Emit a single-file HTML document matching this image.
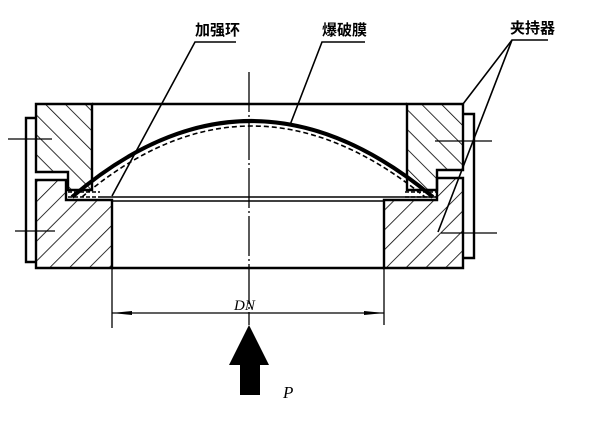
<!DOCTYPE html>
<html><head><meta charset="utf-8"><style>
html,body{margin:0;padding:0;background:#fff}
svg{display:block}
</style></head><body>
<svg width="600" height="424" viewBox="0 0 600 424" xmlns="http://www.w3.org/2000/svg">
<defs>
<pattern id="hl" patternUnits="userSpaceOnUse" width="14" height="14" patternTransform="rotate(-45)">
<line x1="0" y1="0" x2="0" y2="14" stroke="#000" stroke-width="1.6"/></pattern>
<pattern id="hr" patternUnits="userSpaceOnUse" width="14" height="14" patternTransform="rotate(45)">
<line x1="0" y1="0" x2="0" y2="14" stroke="#000" stroke-width="1.6"/></pattern>
</defs>
<g stroke="#000" fill="none" stroke-width="2.4">
<path d="M36 104 H92 V190 H68 V172 H36 Z" fill="url(#hl)"/>
<path d="M36 180 H66 V200 H112 V268 H36 Z" fill="url(#hr)"/>
<path d="M407 104 H463 V170 H437 V190 H407 Z" fill="url(#hl)"/>
<path d="M437 178 H463 V268 H384 V200 H437 Z" fill="url(#hr)"/>
<path d="M36 118 H26 V262 H36"/>
<path d="M463 114 H474 V258 H463"/>
<line x1="92" y1="104" x2="407" y2="104"/>
<line x1="112" y1="268" x2="384" y2="268"/>
<line x1="100" y1="197" x2="437" y2="197" stroke-width="1.6"/>
<line x1="112" y1="201" x2="384" y2="201" stroke-width="1.6"/>
<path d="M72 197 Q250 45 433 197" stroke-width="4"/>
<path d="M82 197 Q250 55 425 197" stroke-width="1.6" stroke-dasharray="5 3"/>
<path d="M68 192 H100 M68 197 H100" stroke-width="1.6" stroke-dasharray="4 2"/>
<path d="M405 192 H437 M405 197 H437" stroke-width="1.6" stroke-dasharray="4 2"/>
</g>
<g stroke="#000" fill="none" stroke-width="1.3">
<line x1="8" y1="139" x2="52" y2="139"/>
<line x1="15" y1="231" x2="55" y2="231"/>
<line x1="435" y1="141" x2="492" y2="141"/>
<line x1="441" y1="233" x2="497" y2="233"/>
<line x1="249" y1="72" x2="249" y2="325" stroke-dasharray="40 3 2 3"/>
<line x1="112" y1="268" x2="112" y2="328"/>
<line x1="384" y1="268" x2="384" y2="325"/>
<line x1="112" y1="313" x2="384" y2="313"/>
<polyline points="236,42 195,42 112,196" stroke-width="1.6"/>
<polyline points="365,42 322,42 290,125" stroke-width="1.6"/>
<polyline points="548,40 512,40 463,104" stroke-width="1.6"/>
<line x1="512" y1="40" x2="438" y2="232" stroke-width="1.6"/>
</g>
<path d="M112 313 L132 311 L132 315 Z M384 313 L364 311 L364 315 Z" fill="#000"/>
<path d="M249 325 L269 365 L260 365 L260 395 L240 395 L240 365 L229 365 Z" fill="#000"/>
<g font-family="'Liberation Sans','Noto Sans CJK SC',sans-serif" font-weight="bold" font-size="15" fill="#000">
<text x="195" y="35">加强环</text>
<text x="322" y="35">爆破膜</text>
<text x="510" y="33">夹持器</text>
</g>
<g font-family="'Liberation Serif',serif" font-style="italic" fill="#000">
<text x="234" y="310" font-size="15">DN</text>
<text x="283" y="398" font-size="17">P</text>
</g>
</svg>
</body></html>
